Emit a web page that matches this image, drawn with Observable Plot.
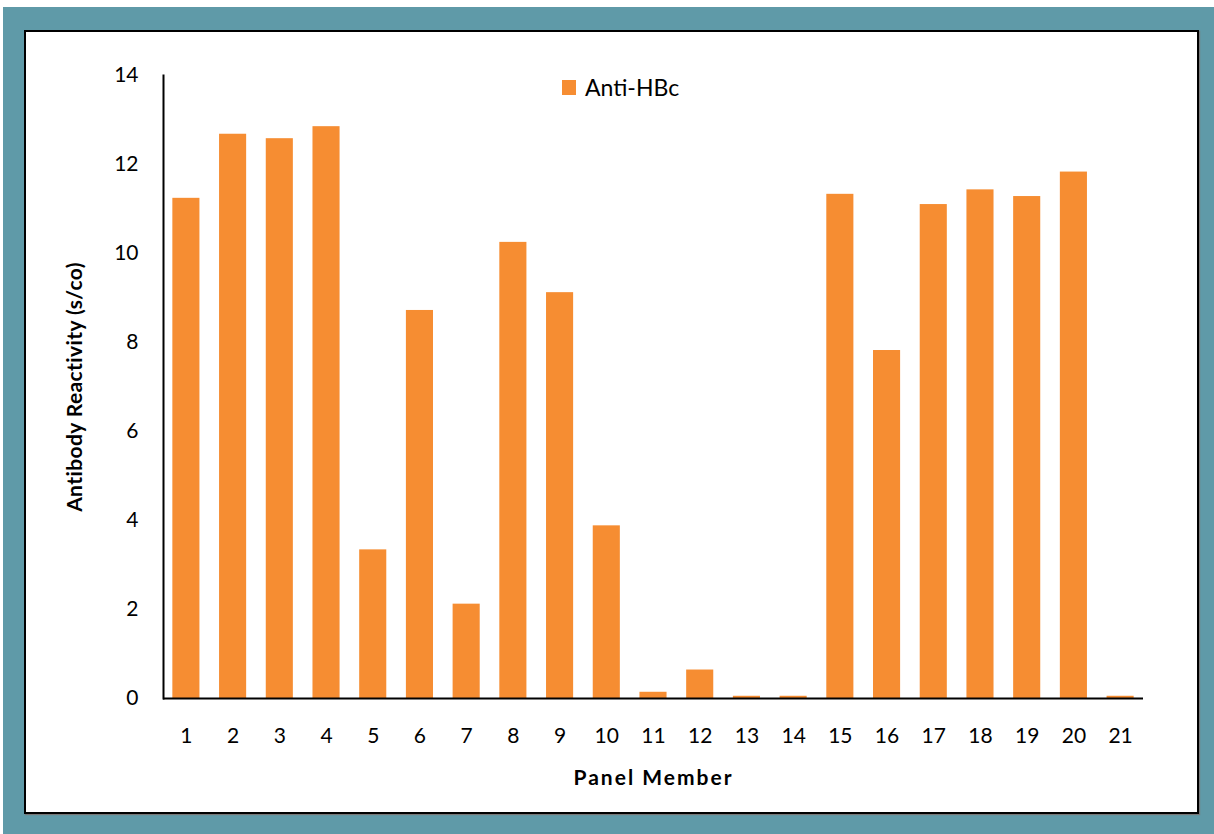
<!DOCTYPE html>
<html>
<head>
<meta charset="utf-8">
<script src="https://cdn.jsdelivr.net/npm/d3@7"></script>
<script src="https://cdn.jsdelivr.net/npm/@observablehq/plot@0.6"></script>
<style>
  html, body { margin: 0; padding: 0; }
  body { width: 1214px; height: 834px; background: #fff; position: relative; overflow: hidden; font-family: Lato, "Open Sans", sans-serif; }
  #teal { position: absolute; left: 3px; top: 7px; right: 0; bottom: 0; background: #5f9aa8; }
  #panel { position: absolute; left: 24px; top: 30px; width: 1171px; height: 780px; border: 2px solid #000; background: #fff; box-shadow: 1px 1px 1px #777; }
  #legend { position: absolute; left: 536px; top: 41px; height: 28px; display: flex; align-items: center; font-size: 23px; line-height: 28px; color: #000; }
  #legend .sw { width: 14px; height: 15px; background: #f68d32; margin-right: 9px; }
</style>
</head>
<body>
<div id="teal"></div>
<div id="panel"><div id="legend"><span class="sw"></span><span id="legend-label"></span></div></div>
<script>
const members = ["1","2","3","4","5","6","7","8","9","10","11","12","13","14","15","16","17","18","19","20","21"];
const values = [11.24, 12.68, 12.58, 12.85, 3.34, 8.72, 2.12, 10.25, 9.12, 3.88, 0.14, 0.64, 0.05, 0.05, 11.33, 7.82, 11.10, 11.43, 11.28, 11.83, 0.05];
const yTicks = [0, 2, 4, 6, 8, 10, 12, 14];
const seriesName = "Anti-HBc";
const xTitle = "Panel Member";
const yTitle = "Antibody Reactivity (s/co)";

document.getElementById("legend-label").textContent = seriesName;

const data = members.map((m, i) => ({member: m, value: values[i]}));

const chart = Plot.plot({
  width: 1171,
  height: 780,
  marginLeft: 137,
  marginRight: 54,
  marginTop: 43,
  marginBottom: 114,
  style: {fontFamily: "Lato, 'Open Sans', sans-serif", fontSize: "21px", color: "#000", background: "transparent"},
  x: {domain: members, paddingInner: 0.42, paddingOuter: 0.2, round: false, label: null},
  y: {domain: [0, 14], label: null},
  marks: [
    Plot.barY(data, {x: "member", y: "value", fill: "#f68d32"}),
    Plot.axisX({tickSize: 0, tickPadding: 30, fontSize: 21, label: null}),
    Plot.axisY({ticks: yTicks, tickSize: 0, tickPadding: 25, fontSize: 21, label: null}),
    Plot.text([xTitle], {frameAnchor: "bottom", dy: 86, fontWeight: "bold", fontSize: 21}),
    Plot.text([yTitle], {frameAnchor: "left", dx: -88, rotate: -90, textAnchor: "middle", fontWeight: "bold", fontSize: 21}),
    Plot.ruleY([0], {stroke: "#000", strokeWidth: 2}),
    Plot.frame({anchor: "left", stroke: "#000", strokeWidth: 2})
  ]
});
chart.querySelectorAll("text").forEach(t => {
  if (t.textContent === xTitle) t.style.letterSpacing = "2px";
  if (t.textContent === yTitle) t.style.letterSpacing = "0.4px";
});
document.getElementById("panel").appendChild(chart);
chart.style.position = "absolute";
chart.style.left = "0px";
chart.style.top = "0px";
</script>
</body>
</html>
